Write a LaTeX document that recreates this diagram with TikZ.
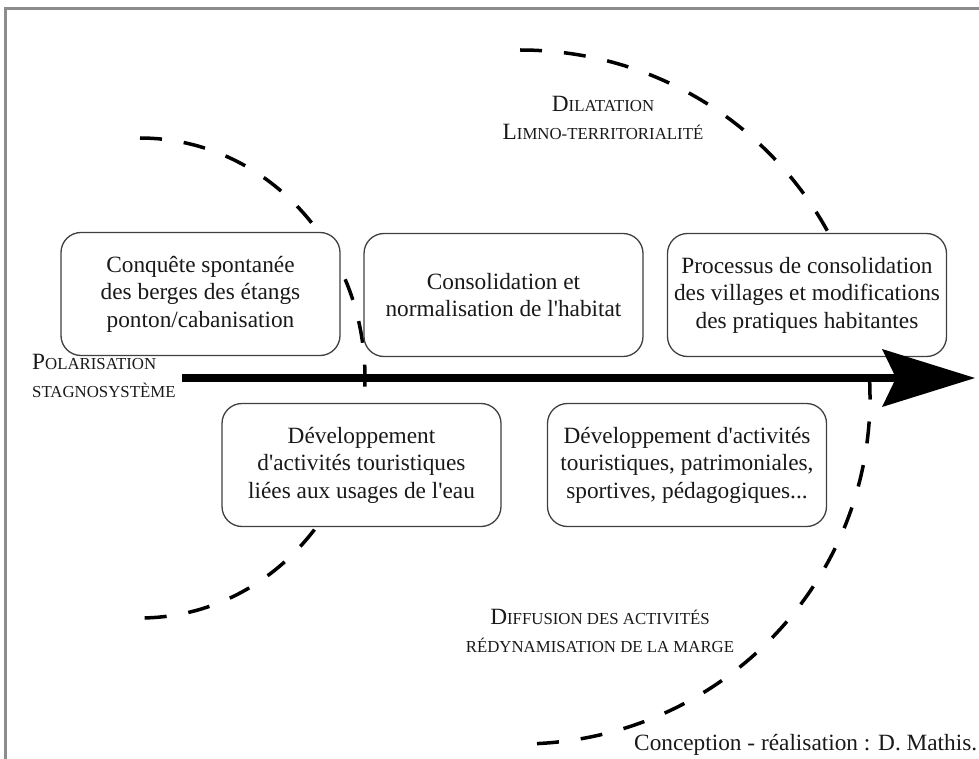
\documentclass[tikz,border=0pt]{standalone}
\usepackage{fontspec}
\setmainfont{Liberation Serif}[Ligatures=TeXOff]
\usetikzlibrary{arrows.meta}

\newcommand{\capsbig}[1]{{\fontsize{23.3}{27.5}\selectfont #1}}
\newcommand{\capssmall}[1]{{\fontsize{16.8}{27.5}\selectfont #1}}

\begin{document}
\begin{tikzpicture}[
    x=1pt, y=-1pt,
    every node/.style={font=\fontsize{23.3}{27.5}\selectfont, text=black!90},
    stage/.style={draw=black!75, line width=1.3pt, fill=white, rounded corners=20pt,
        minimum width=279pt, minimum height=123pt, align=center, inner sep=2pt},
    phase/.style={align=center, inner sep=0pt},
    limit/.style={line width=3.5pt, dash pattern=on 22pt off 22pt},
    axis/.style={line width=8pt, -{Stealth[length=93pt, width=58pt, inset=14pt, line width=0pt]}},
    frame/.style={draw=black!45, line width=3pt}
    ]

    \useasboundingbox (0,0) rectangle (979,759);
    \draw[frame] (5,759) -- (5,9) -- (979,9);

    % Limits
    \draw[limit] (140,138) arc[start angle=-90, end angle=90, x radius=225, y radius=240];
    \draw[limit] (520,50) arc[start angle=-90, end angle=90, x radius=350, y radius=347];

    % Nodes
    \node[stage] (s1) at (200.5,294) {Conquête spontanée\\des berges des étangs\\ponton/cabanisation};
    \node[stage] (s2) at (503.5,295) {Consolidation et\\normalisation de l'habitat};
    \node[stage] (s3) at (807,295) {Processus de consolidation\\des villages et modifications\\des pratiques habitantes};
    \node[stage] (s4) at (361.5,465) {Développement\\d'activités touristiques\\liées aux usages de l'eau};
    \node[stage] (s5) at (687,465) {Développement d'activités\\touristiques, patrimoniales,\\sportives, pédagogiques...};

    \node[phase, align=left, anchor=west] (polar) at (32,376)
        {\capsbig{P}\capssmall{OLARISATION}\\\capssmall{STAGNOSYSTÈME}};
    \node[phase] (dilat) at (603,118)
        {\capsbig{D}\capssmall{ILATATION}\\\capsbig{L}\capssmall{IMNO-TERRITORIALITÉ}};
    \node[phase] (diffu) at (600,631)
        {\capsbig{D}\capssmall{IFFUSION DES ACTIVITÉS}\\\capssmall{RÉDYNAMISATION DE LA MARGE}};
    \node[phase, anchor=base west] (credit) at (634,750) {Conception - réalisation : D. Mathis.};

    % Axis
    \coordinate (a0) at (182,378);
    \coordinate (a1) at (975,378);
    \draw[axis] (a0) -- (a1);

\end{tikzpicture}
\end{document}
